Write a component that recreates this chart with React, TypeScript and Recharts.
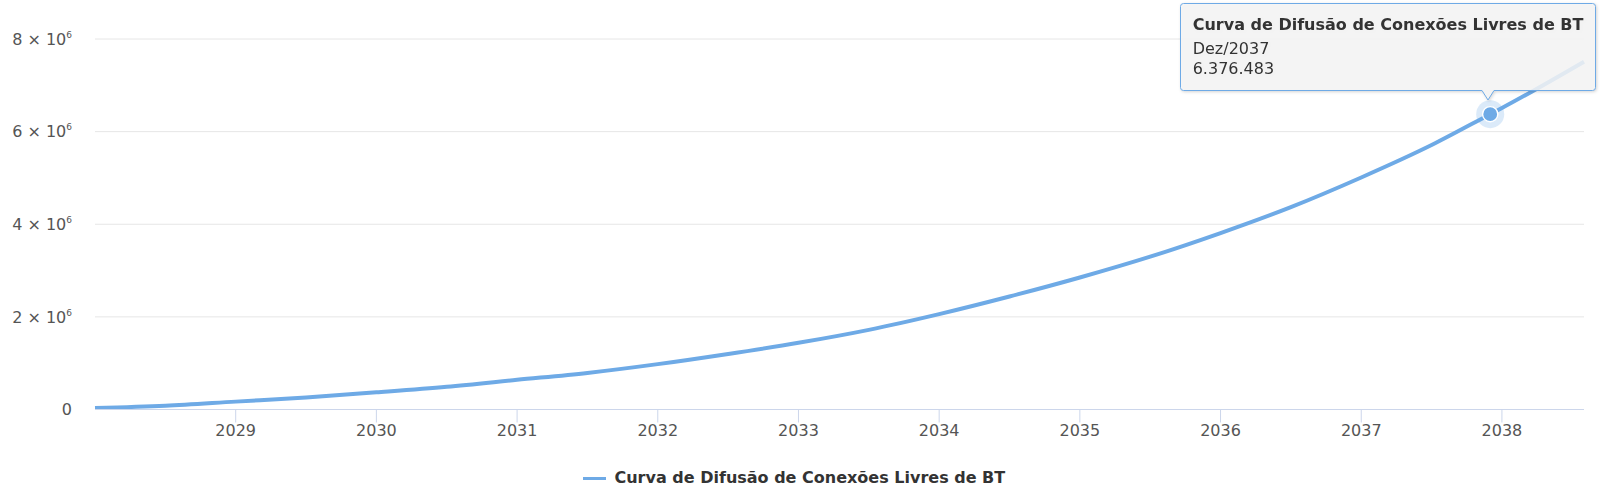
import React from 'react';
import { LineChart, Line, XAxis, YAxis, CartesianGrid, Tooltip, Legend } from 'recharts';

// months counted from Jan/2028
const monthIndex = [0, 6, 12, 18, 24, 30, 36, 42, 48, 54, 60, 66, 72, 78, 84, 90, 96, 102, 108, 114, 119, 120, 127];
const periodLabels = [
  'Jan/2028', 'Jul/2028', 'Jan/2029', 'Jul/2029', 'Jan/2030', 'Jul/2030', 'Jan/2031', 'Jul/2031',
  'Jan/2032', 'Jul/2032', 'Jan/2033', 'Jul/2033', 'Jan/2034', 'Jul/2034', 'Jan/2035', 'Jul/2035',
  'Jan/2036', 'Jul/2036', 'Jan/2037', 'Jul/2037', 'Dez/2037', 'Jan/2038', 'Ago/2038',
];
const connections = [
  30000, 80000, 170000, 260000, 370000, 490000, 640000, 790000,
  980000, 1200000, 1440000, 1720000, 2060000, 2440000, 2850000, 3300000,
  3810000, 4370000, 5010000, 5710000, 6376483, 6510000, 7510000,
];
const seriesName = 'Curva de Difusão de Conexões Livres de BT';
const xTicks = [12, 24, 36, 48, 60, 72, 84, 96, 108, 120];
const startYear = 2028;
const yTicks = [0, 2000000, 4000000, 6000000, 8000000];
const activeIndex = 20;

const data = monthIndex.map((m, i) => ({ t: m, label: periodLabels[i], value: connections[i] }));

const COLOR = '#6eaae6';
const FONT = '"DejaVu Sans", Verdana, sans-serif';

const fmt = (v: number) => String(Math.round(v)).replace(/\B(?=(\d{3})+(?!\d))/g, '.');

const YTick = (props: any) => {
  const { x, y, payload } = props;
  const v = payload.value as number;
  if (v === 0) {
    return (
      <text x={x} y={y} dy={5.8} textAnchor="end" fontSize={16} fontFamily={FONT} fill="#555">0</text>
    );
  }
  return (
    <text x={x} y={y} dy={5.8} textAnchor="end" fontSize={16} fontFamily={FONT} fill="#555">
      <tspan>{`${v / 1e6} × 10`}</tspan>
      <tspan dy={-7} fontSize={9}>6</tspan>
    </text>
  );
};

const XTick = (props: any) => {
  const { x, y, payload } = props;
  return (
    <text x={x} y={y} dy={13} textAnchor="middle" fontSize={16} fontFamily={FONT} fill="#555">
      {startYear + payload.value / 12}
    </text>
  );
};

const TooltipBox = (props: any) => {
  const { payload } = props;
  const item = payload && payload.length ? payload[0].payload : data[activeIndex];
  const w = 416;
  const h = 88;
  const r = 3;
  const ax = 308;
  const path = `M ${r + 0.5} 0.5 H ${w - r - 0.5} Q ${w - 0.5} 0.5 ${w - 0.5} ${r + 0.5} V ${h - r - 0.5} Q ${w - 0.5} ${h - 0.5} ${w - r - 0.5} ${h - 0.5} H ${ax + 6} L ${ax} ${h + 9} L ${ax - 6} ${h - 0.5} H ${r + 0.5} Q 0.5 ${h - 0.5} 0.5 ${h - r - 0.5} V ${r + 0.5} Q 0.5 0.5 ${r + 0.5} 0.5 Z`;
  return (
    <div style={{ position: 'relative', width: w + 4, height: h + 12 }}>
      <svg width={w + 4} height={h + 12} style={{ position: 'absolute', left: 0, top: 0, overflow: 'visible', filter: 'drop-shadow(1px 1px 1.5px rgba(0,0,0,0.18))' }}>
        <path d={path} fill="rgba(248,248,248,0.85)" stroke={COLOR} strokeWidth={1} />
        <text x={12.7} y={27} fontFamily={FONT} fontSize={16} fontWeight="bold" fill="#333">{seriesName}</text>
        <text x={12.7} y={51.3} fontFamily={FONT} fontSize={16} fill="#333">{item.label}</text>
        <text x={12.7} y={71} fontFamily={FONT} fontSize={16} fill="#333">{fmt(item.value)}</text>
      </svg>
    </div>
  );
};

const LegendContent = () => (
  <div style={{ display: 'flex', justifyContent: 'center', alignItems: 'center', height: 30, paddingRight: 12 }}>
    <div style={{ width: 23, height: 3, background: COLOR, marginRight: 8.7 }} />
    <span style={{ fontFamily: FONT, fontSize: 16, fontWeight: 'bold', color: '#333', lineHeight: '30px', whiteSpace: 'nowrap' }}>
      {seriesName}
    </span>
  </div>
);

const ActiveDot = (props: any) => {
  const { cx, cy } = props;
  return (
    <g>
      <circle cx={cx} cy={cy} r={14} fill={COLOR} fillOpacity={0.25} />
      <circle cx={cx} cy={cy} r={7.6} fill={COLOR} stroke="#fff" strokeWidth={1.4} />
    </g>
  );
};

export default function App() {
  return (
    <div style={{ position: 'absolute', left: 0, top: 0, width: 1600, height: 497, background: '#fff' }}>
      <LineChart width={1600} height={497} data={data} margin={{ top: 39, right: 16, bottom: 4, left: 0 }}>
        <CartesianGrid horizontal vertical={false} stroke="#e6e6e6" strokeWidth={1} />
        <XAxis
          dataKey="t"
          type="number"
          domain={[0, 127]}
          ticks={xTicks}
          height={53.5}
          tick={<XTick />}
          tickSize={13}
          tickMargin={0}
          tickLine={{ stroke: '#ccd6eb' }}
          axisLine={{ stroke: '#ccd6eb' }}
          interval={0}
        />
        <YAxis
          type="number"
          domain={[0, 8000000]}
          ticks={yTicks}
          width={95}
          tick={<YTick />}
          tickSize={0}
          tickMargin={23}
          tickLine={false}
          axisLine={false}
          interval={0}
        />
        <Tooltip
          content={<TooltipBox />}
          position={{ x: 1180, y: 3 }}
          defaultIndex={activeIndex}
          cursor={false}
          isAnimationActive={false}
          wrapperStyle={{ outline: 'none' }}
        />
        <Legend
          verticalAlign="bottom"
          content={<LegendContent />}
          wrapperStyle={{ left: 0, width: 1600, bottom: 4, height: 30 }}
        />
        <Line
          type="monotone"
          dataKey="value"
          name={seriesName}
          stroke={COLOR}
          strokeWidth={4}
          dot={false}
          activeDot={<ActiveDot />}
          isAnimationActive={false}
        />
      </LineChart>
    </div>
  );
}
